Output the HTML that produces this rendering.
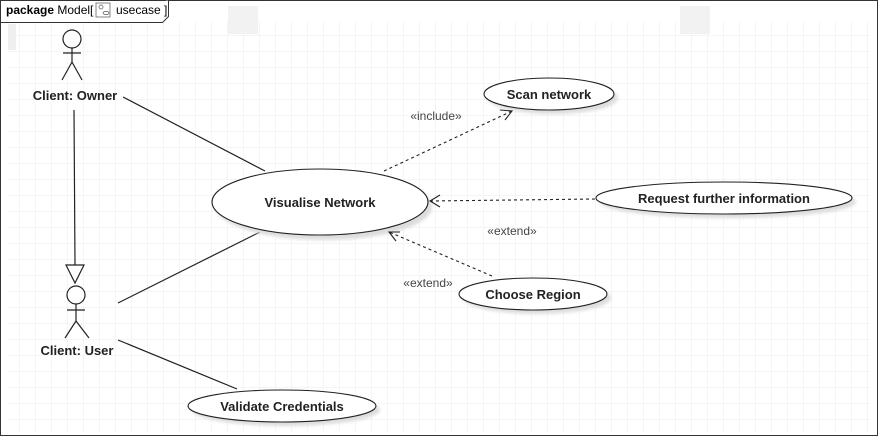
<!DOCTYPE html>
<html><head><meta charset="utf-8"><style>
html,body{margin:0;padding:0;background:#fff;width:879px;height:437px;overflow:hidden}
svg{display:block;font-family:"Liberation Sans",Arial,sans-serif}
</style></head><body>
<svg width="879" height="437" viewBox="0 0 879 437" xmlns="http://www.w3.org/2000/svg">
<defs>
<pattern id="g" width="16" height="16" patternUnits="userSpaceOnUse" x="4" y="4">
<path d="M16 0V16H0" fill="none" stroke="#ebebeb" stroke-width="1"/>
</pattern>
<filter id="sh" x="-10%" y="-10%" width="130%" height="150%"><feGaussianBlur stdDeviation="1.5"/></filter>
</defs>
<rect x="0" y="0" width="879" height="437" fill="#fff"/>
<rect x="8" y="22" width="862" height="410" fill="url(#g)"/>
<rect x="8" y="24" width="8" height="26" fill="#efefef"/>
<rect x="228" y="6" width="30" height="28" fill="#f2f2f2"/>
<rect x="680" y="6" width="30" height="28" fill="#f2f2f2"/>
<rect x="0.5" y="0.5" width="877" height="435" fill="none" stroke="#333" stroke-width="1"/>
<path d="M0.5 22.5H162.5L168.5 16.5V0.5" fill="#fff" stroke="#333"/>
<text x="6" y="14" font-size="12"><tspan font-weight="bold">package</tspan>  Model[ </text>
<rect x="96" y="3" width="14" height="14" fill="#fff" stroke="#666" stroke-width="0.8"/>
<circle cx="101" cy="7" r="2" fill="none" stroke="#555" stroke-width="0.7"/>
<ellipse cx="106" cy="13" rx="3" ry="1.6" fill="none" stroke="#555" stroke-width="0.7"/>
<text x="116" y="14" font-size="12">usecase ]</text>

<g stroke="#222" stroke-width="1.2" fill="none">
<circle cx="72" cy="39" r="9" fill="#fff"/>
<line x1="72" y1="48" x2="72" y2="62"/><line x1="63" y1="53" x2="81" y2="53"/>
<line x1="72" y1="62" x2="62" y2="80"/><line x1="72" y1="62" x2="82" y2="80"/>
<circle cx="76" cy="295" r="9" fill="#fff"/>
<line x1="76" y1="304" x2="76" y2="321"/><line x1="67" y1="310" x2="85" y2="310"/>
<line x1="76" y1="321" x2="65" y2="338"/><line x1="76" y1="321" x2="89" y2="338"/>
<line x1="74" y1="110" x2="75" y2="265"/>
<path d="M66 265H84L75 283Z" fill="#fff"/>
<line x1="123" y1="97" x2="265" y2="171"/>
<line x1="118" y1="303" x2="260" y2="232"/>
<line x1="118" y1="340" x2="237" y2="389"/>
</g>
<g font-size="13" font-weight="bold" fill="#222" text-anchor="middle">
<text x="75" y="100">Client: Owner</text>
<text x="77" y="355">Client: User</text>
</g>

<g fill="#ddd" filter="url(#sh)">
<ellipse cx="553" cy="98" rx="65" ry="16"/>
<ellipse cx="324" cy="207" rx="108" ry="33"/>
<ellipse cx="728" cy="202" rx="128" ry="16"/>
<ellipse cx="537" cy="298" rx="74" ry="16"/>
<ellipse cx="286" cy="410" rx="94" ry="16"/>
</g>
<g fill="#fff" stroke="#222" stroke-width="1.1">
<ellipse cx="549" cy="94" rx="65" ry="16"/>
<ellipse cx="320" cy="202" rx="108" ry="33"/>
<ellipse cx="724" cy="198" rx="128" ry="16"/>
<ellipse cx="533" cy="294" rx="74" ry="16"/>
<ellipse cx="282" cy="406" rx="94" ry="16"/>
</g>
<g font-size="13" font-weight="bold" fill="#222" text-anchor="middle">
<text x="549" y="99">Scan network</text>
<text x="320" y="207">Visualise Network</text>
<text x="724" y="203">Request further information</text>
<text x="533" y="299">Choose Region</text>
<text x="282" y="411">Validate Credentials</text>
</g>

<g stroke="#222" stroke-width="1.1" fill="none">
<line x1="384" y1="171" x2="512" y2="111" stroke-dasharray="3,3"/>
<path d="M500 110L512 111L505 120"/>
<line x1="595" y1="199" x2="430" y2="201" stroke-dasharray="3,3"/>
<path d="M440 195L430 201L440 207"/>
<line x1="492" y1="276" x2="389" y2="232" stroke-dasharray="3,3"/>
<path d="M400 232L389 232L396 241"/>
</g>
<g font-size="12" fill="#444" text-anchor="middle">
<text x="436" y="120">«include»</text>
<text x="512" y="235">«extend»</text>
<text x="428" y="287">«extend»</text>
</g>
</svg>
</body></html>
